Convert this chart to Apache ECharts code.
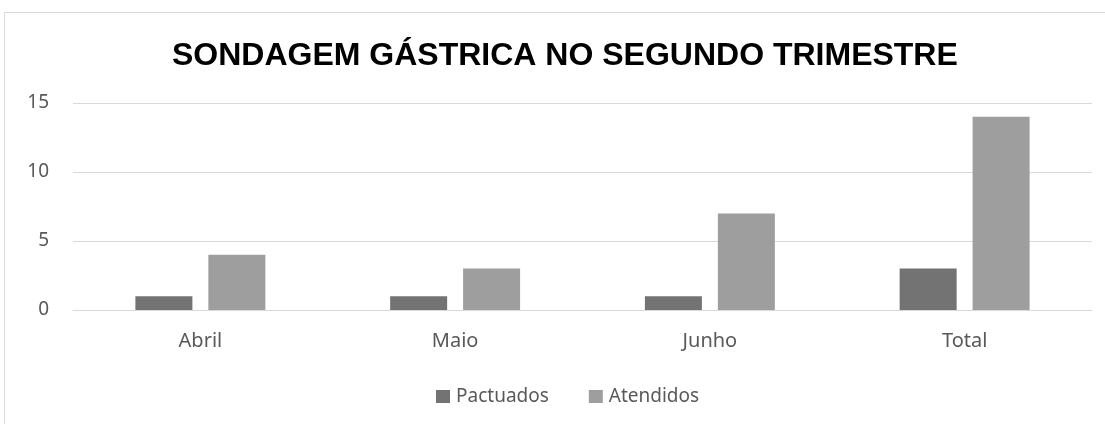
<!DOCTYPE html>
<html>
<head>
<meta charset="utf-8">
<script src="https://cdn.jsdelivr.net/npm/echarts@6/dist/echarts.min.js"></script>
<style>
  html, body { margin: 0; padding: 0; background: #fff; }
  #main { width: 1105px; height: 424px; }
</style>
</head>
<body>
<div id="main"></div>
<script>
const categories = ['Abril', 'Maio', 'Junho', 'Total'];
const pactuados = [1, 1, 1, 3];
const atendidos = [4, 3, 7, 14];
const yTicks = [0, 5, 10, 15];

const chart = echarts.init(document.getElementById('main'));

const option = {
  backgroundColor: '#fff',
  animation: false,
  title: {
    text: 'SONDAGEM GÁSTRICA NO SEGUNDO TRIMESTRE',
    left: 167,
    top: 35,
    textStyle: {
      fontFamily: 'Liberation Sans',
      fontWeight: 'bold',
      fontSize: 32,
      color: '#000'
    }
  },
  graphic: [{
    type: 'rect',
    shape: { x: 4.5, y: 12.5, width: 1110, height: 420 },
    style: { fill: 'none', stroke: '#d9d9d9', lineWidth: 1 },
    silent: true
  }],
  legend: {
    top: 382,
    left: 431,
    itemWidth: 14,
    itemHeight: 13,
    itemGap: 40,
    icon: 'rect',
    textStyle: { fontFamily: 'Noto Sans', fontSize: 19, color: '#595959', padding: [0, 0, 0, 1] },
    data: ['Pactuados', 'Atendidos']
  },
  grid: { left: 73, right: 13, top: 103, bottom: 114 },
  xAxis: {
    type: 'category',
    data: categories,
    axisLine: { lineStyle: { color: '#d9d9d9', width: 1 } },
    axisTick: { show: false },
    axisLabel: { fontFamily: 'Noto Sans', fontSize: 20, color: '#595959', margin: 21 }
  },
  yAxis: {
    type: 'value',
    min: yTicks[0],
    max: yTicks[yTicks.length - 1],
    interval: 5,
    axisLine: { show: false },
    axisTick: { show: false },
    splitLine: { lineStyle: { color: '#d9d9d9', width: 1 } },
    axisLabel: { fontFamily: 'Noto Sans', fontSize: 19, color: '#595959', margin: 24 }
  },
  series: [
    {
      name: 'Pactuados',
      type: 'bar',
      data: pactuados,
      barWidth: 57,
      barGap: '28%',
      itemStyle: { color: '#737373' }
    },
    {
      name: 'Atendidos',
      type: 'bar',
      data: atendidos,
      barWidth: 57,
      itemStyle: { color: '#9e9e9e' }
    }
  ]
};

chart.setOption(option);
</script>
</body>
</html>
